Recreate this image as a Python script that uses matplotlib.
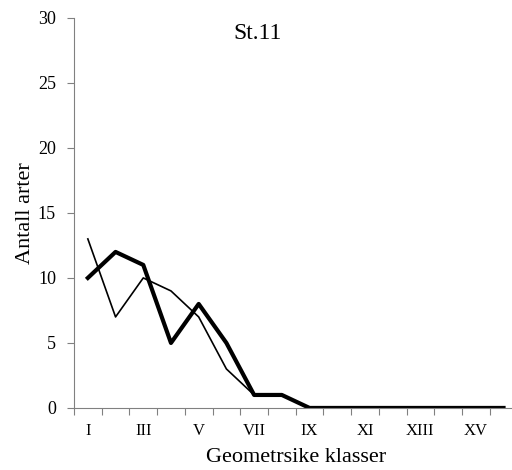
import matplotlib
matplotlib.use('Agg')
import matplotlib.pyplot as plt
import numpy as np

plt.rcParams['font.family'] = ['Liberation Serif', 'DejaVu Serif']

klasser = ['I', 'II', 'III', 'IV', 'V', 'VI', 'VII', 'VIII',
           'IX', 'X', 'XI', 'XII', 'XIII', 'XIV', 'XV', 'XVI']
tynn = [13, 7, 10, 9, 7, 3, 1, 1, 0, 0, 0, 0, 0, 0, 0, 0]
tykk = [10, 12, 11, 5, 8, 5, 1, 1, 0, 0, 0, 0, 0, 0, 0, 0]

fig = plt.figure(figsize=(5.12, 4.70), dpi=100)
ax = fig.add_axes([0.1445, 0.132, 0.866, 0.830])

x = np.arange(len(klasser)) + 0.5
ax.plot(x, tynn, color='black', linewidth=1.2)
ax.plot(x, tykk, color='black', linewidth=3.0)

ax.set_xlim(0, len(klasser))
ax.set_ylim(0, 30)
ax.set_yticks(np.arange(0, 31, 5))
ax.set_xticks(np.arange(len(klasser) + 1))
ax.set_xticklabels([])
ax.set_xticks(x[::2], minor=True)
ax.set_xticklabels(klasser[::2], minor=True)
ax.tick_params(axis='x', which='minor', length=0, pad=11, labelsize=12)
ax.tick_params(axis='x', which='major', length=5, color='#808080')
ax.tick_params(axis='y', length=5, color='#808080', pad=8, labelsize=13)

for s in ['top', 'right']:
    ax.spines[s].set_visible(False)
for s in ['left', 'bottom']:
    ax.spines[s].set_color('#808080')

ax.set_xlabel('Geometrsike klasser', fontsize=16, labelpad=6)
ax.set_ylabel('Antall arter', fontsize=16, labelpad=2)
ax.text(0.415, 0.96, 'St.11', transform=ax.transAxes, fontsize=17,
        ha='center', va='center')

fig.savefig('out.png', dpi=100)
